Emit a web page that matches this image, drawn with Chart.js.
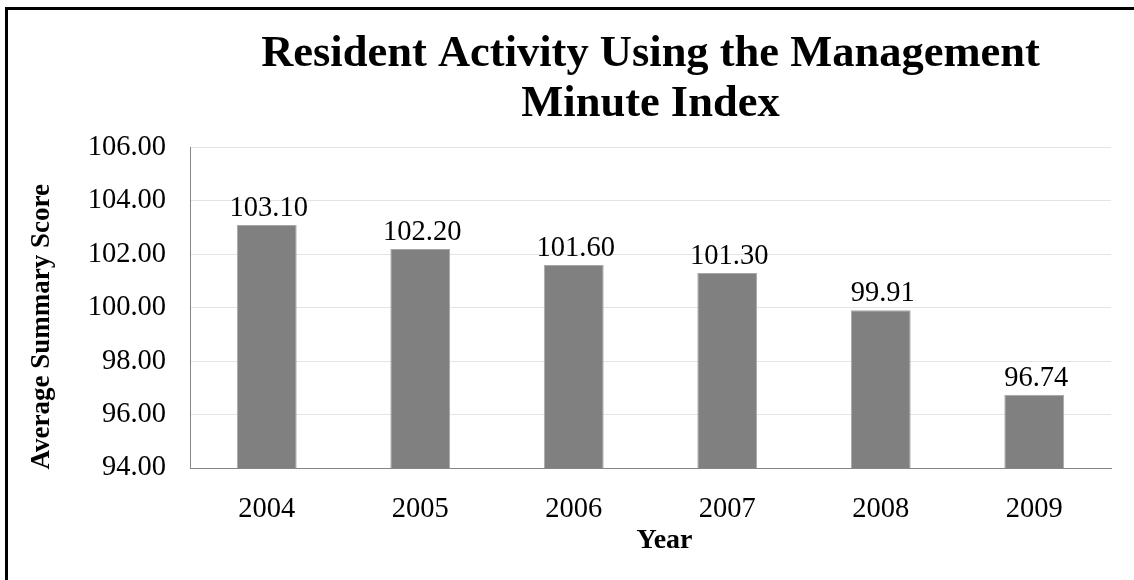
<!DOCTYPE html>
<html>
<head>
<meta charset="utf-8">
<script src="https://cdn.jsdelivr.net/npm/chart.js@4/dist/chart.umd.min.js"></script>
<style>
  body { margin: 0; background: #fff; }
  #wrap { position: relative; width: 1134px; height: 580px; overflow: hidden; }
  #frame {
    position: absolute; left: 5px; top: 7px; right: -10px; bottom: -10px;
    border-top: 3px solid #000; border-left: 3px solid #000;
    pointer-events: none;
  }
</style>
</head>
<body>
<div id="wrap">
  <canvas id="chart"></canvas>
  <div id="frame"></div>
</div>
<script>
// chart values
const years = ['2004', '2005', '2006', '2007', '2008', '2009'];
const scores = [103.10, 102.20, 101.60, 101.30, 99.91, 96.74];
const titleLines = ['Resident Activity Using the Management', 'Minute Index'];
const yTitle = 'Average Summary Score';
const xTitle = 'Year';

const FONT = '"Liberation Serif", "DejaVu Serif", serif';

// writes the value above each bar, and both axis titles
// (the original has them a bit off the plot centre)
const barLabels = {
  id: 'barLabels',
  afterDatasetsDraw(chart) {
    const ctx = chart.ctx;
    const meta = chart.getDatasetMeta(0);
    const area = chart.chartArea;
    ctx.save();
    ctx.font = '28.5px ' + FONT;
    ctx.fillStyle = '#000';
    ctx.textAlign = 'center';
    ctx.textBaseline = 'alphabetic';
    meta.data.forEach((bar, i) => {
      ctx.fillText(scores[i].toFixed(2), bar.x + 2, bar.y - 9);
    });
    ctx.font = 'bold 28px ' + FONT;
    ctx.fillText(xTitle, (area.left + area.right) / 2 + 14, 548);

    ctx.font = 'bold 27px ' + FONT;
    ctx.textBaseline = 'middle';
    ctx.translate(42, (area.top + area.bottom) / 2 + 19);
    ctx.rotate(-Math.PI / 2);
    ctx.fillText(yTitle, 0, 0);
    ctx.restore();
  }
};

new Chart(document.getElementById('chart'), {
  type: 'bar',
  data: {
    labels: years,
    datasets: [{
      data: scores,
      backgroundColor: '#808080',
      borderColor: '#a8a8a8',
      borderWidth: 1,
      barPercentage: 0.39,
      categoryPercentage: 1
    }]
  },
  options: {
    responsive: true,
    maintainAspectRatio: false,
    animation: false,
    layout: { padding: { left: 20, right: 23, top: 0, bottom: 10 } },
    plugins: {
      legend: { display: false },
      tooltip: { enabled: false },
      title: {
        display: true,
        text: titleLines,
        fullSize: false,
        color: '#000',
        font: { family: FONT, size: 44.5, weight: 'bold', lineHeight: 1.13 },
        padding: { top: 29, bottom: 18 }
      }
    },
    scales: {
      x: {
        grid: { display: false, drawTicks: false },
        border: { color: '#868686', width: 1 },
        ticks: { color: '#000', font: { family: FONT, size: 28.5 }, padding: 24 },
        afterFit: s => { s.height = 102; }
      },
      y: {
        min: 94,
        max: 106,
        grid: { color: '#e4e4e4', drawTicks: false },
        border: { color: '#868686', width: 1 },
        ticks: {
          stepSize: 2,
          color: '#000',
          font: { family: FONT, size: 28.5 },
          padding: 24,
          callback: v => v.toFixed(2)
        },
        afterFit: s => { s.width = 170; }
      }
    }
  },
  plugins: [barLabels]
});
</script>
</body>
</html>
